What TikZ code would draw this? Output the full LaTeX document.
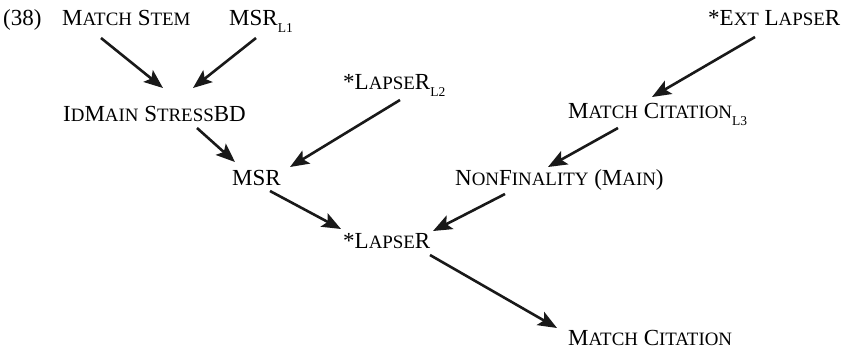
\documentclass[tikz,border=0pt]{standalone}
\usepackage{fontspec}
\setmainfont{Liberation Serif}
\usetikzlibrary{arrows.meta}
\newcommand{\sm}[1]{{\fontsize{18.9}{18.9}\selectfont #1}}
\newcommand{\lsub}[1]{\raisebox{-7pt}{\fontsize{13.5}{13.5}\selectfont #1}}

\begin{document}
\begin{tikzpicture}[
  x=1pt,y=-1pt,
  font=\fontsize{23}{25}\selectfont,
  con/.style={inner sep=0pt,anchor=base west},
  arr/.style={-{Stealth[length=19pt,width=15pt,inset=4pt]},line width=2.6pt,draw=black!90}]
\useasboundingbox (0,0) rectangle (849,349);
\node[con] (num)  at (3,25)    {(38)};
\node[con] (ms)   at (62,25)   {M\sm{ATCH} S\sm{TEM}};
\node[con] (msr1) at (229,25)  {MSR\lsub{L1}};
\node[con] (ext)  at (708,25)  {*E\sm{XT} L\sm{APSE}R};
\node[con] (lp2)  at (343,89)  {*L\sm{APSE}R\lsub{L2}};
\node[con] (idm)  at (63,121)  {I\sm{D}M\sm{AIN} S\sm{TRESS}BD};
\node[con] (mc3)  at (568,118) {M\sm{ATCH} C\sm{ITATION}\lsub{L3}};
\node[con] (msr)  at (232,185) {MSR};
\node[con] (nf)   at (455,185) {N\sm{ON}F\sm{INALITY} (M\sm{AIN})};
\node[con] (lp)   at (343,248) {*L\sm{APSE}R};
\node[con] (mc)   at (568,345) {M\sm{ATCH} C\sm{ITATION}};
\draw[arr] ([shift={(39,13)}]ms.base west)   -- ([shift={(100,-33)}]idm.base west);
\draw[arr] ([shift={(27,13)}]msr1.base west) -- ([shift={(130,-33)}]idm.base west);
\draw[arr] ([shift={(134,7)}]idm.base west)  -- ([shift={(3,-23)}]msr.base west);
\draw[arr] ([shift={(57,11)}]lp2.base west)  -- ([shift={(58,-18)}]msr.base west);
\draw[arr] ([shift={(47,12)}]ext.base west)  -- ([shift={(84,-21)}]mc3.base west);
\draw[arr] ([shift={(50,10)}]mc3.base west)  -- ([shift={(93,-18)}]nf.base west);
\draw[arr] ([shift={(38,6)}]msr.base west)   -- ([shift={(-2,-19)}]lp.base west);
\draw[arr] ([shift={(50,9)}]nf.base west)    -- ([shift={(90,-17)}]lp.base west);
\draw[arr] ([shift={(87,7)}]lp.base west)    -- ([shift={(-11,-17)}]mc.base west);
\end{tikzpicture}
\end{document}
